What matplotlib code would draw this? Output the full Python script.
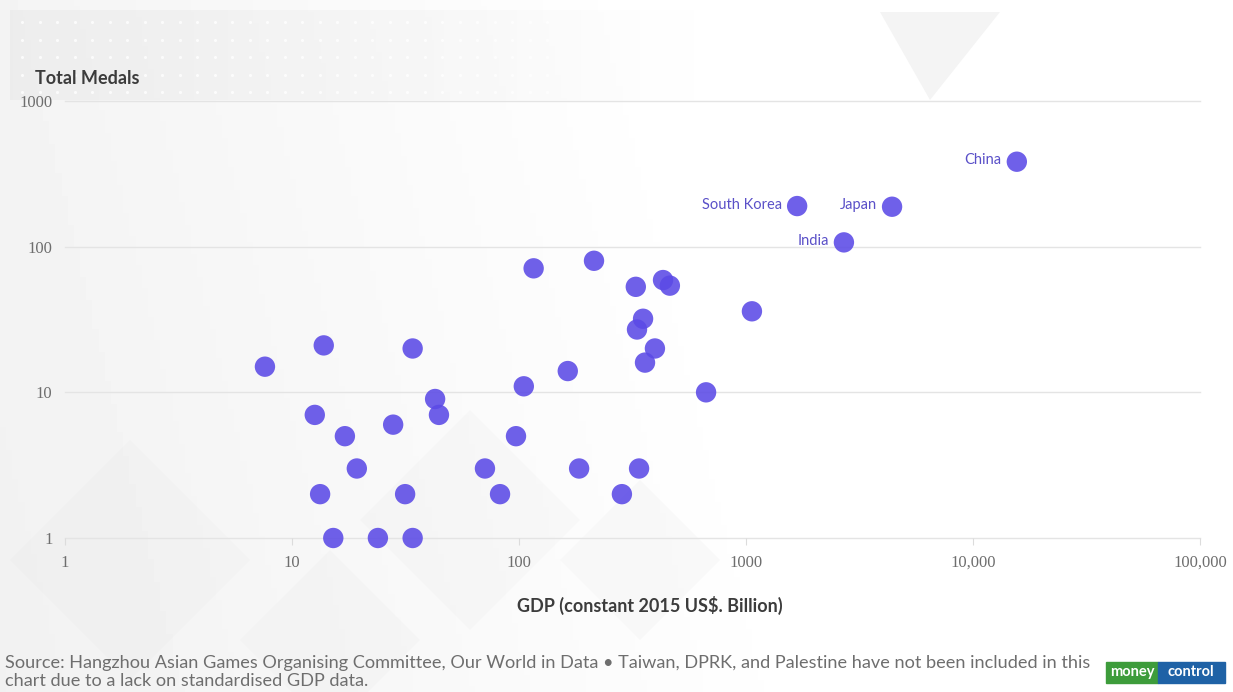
import matplotlib.pyplot as plt
import numpy as np
from matplotlib.patches import Rectangle, Polygon

plt.rcParams['font.family'] = ['Lato', 'DejaVu Sans']

# GDP (constant 2015 US$, billion) and total medals
gdp = [7.6, 13.8, 34, 12.6, 17.1, 19.3, 13.3, 27.9, 31.5, 15.2, 23.9, 34,
       42.7, 44.4, 70.8, 82.5, 105, 97, 116, 214, 327, 431, 462, 1062,
       352, 331, 397, 359, 164, 667, 184, 338, 284]
medals = [15, 21, 20, 7, 5, 3, 2, 6, 2, 1, 1, 1,
          9, 7, 3, 2, 11, 5, 71, 80, 53, 59, 54, 36,
          32, 27, 20, 16, 14, 10, 3, 3, 2]

# labelled countries
names = ['China', 'South Korea', 'Japan', 'India']
names_gdp = [15600, 1680, 4400, 2700]
names_medals = [383, 190, 188, 107]

x_ticks = [1, 10, 100, 1000, 10000, 100000]
x_labels = ['1', '10', '100', '1000', '10,000', '100,000']
y_ticks = [1, 10, 100, 1000]
y_labels = ['1', '10', '100', '1000']

dot = '#5b4ae6'
grey_txt = '#6e6e6e'
W, H = 1233, 692

fig = plt.figure(figsize=(12.33, 6.92), dpi=100)
fig.patch.set_facecolor('white')

# soft background wash, pixel coords with origin top-left
bg = fig.add_axes([0, 0, 1, 1], zorder=-5)
gx = np.linspace(0, 1, 200)
gy = np.linspace(0, 1, 120)
GX, GY = np.meshgrid(gx, gy)
shade = 0.945 + 0.055 * np.clip(GX * 1.5 + (1 - GY) * 0.2, 0, 1)
bg.imshow(shade, cmap='gray', vmin=0, vmax=1, aspect='auto',
          extent=[0, W, H, 0])
# faint diamonds
for cx, cy, r in [(130, 560, 120), (470, 520, 110), (330, 640, 90), (640, 560, 80)]:
    bg.add_patch(Polygon([(cx - r, cy), (cx, cy - r), (cx + r, cy), (cx, cy + r)],
                         closed=True, color='#e6e6e6', alpha=0.18, lw=0))
bg.add_patch(Polygon([(880, 12), (1000, 12), (930, 100)], closed=True,
                     color='#f4f4f4', lw=0))
# dotted band at the top left, fading to the right
band = np.ones((2, 256, 4)) * 0.91
band[..., 3] = np.linspace(0.55, 0.0, 256)
bg.imshow(band, extent=[10, 700, 100, 10], aspect='auto', zorder=1)
px, py = np.meshgrid(np.arange(22, 560, 17.5), np.arange(22, 100, 17.5))
bg.scatter(px.ravel(), py.ravel(), s=5, color='white', lw=0, alpha=0.8, zorder=2)
bg.set_xlim(0, W)
bg.set_ylim(H, 0)
bg.axis('off')

ax = fig.add_axes([65 / W, 154 / H, 1135 / W, 437 / H])
ax.set_facecolor('none')
ax.set_xscale('log')
ax.set_yscale('log')
ax.set_xlim(1, 100000)
ax.set_ylim(1, 1000)

for yv in y_ticks:
    ax.axhline(yv, color='#e4e4e4', lw=1, zorder=0, clip_on=False)

ax.scatter(gdp, medals, s=215, color=dot, alpha=0.88, edgecolors='none',
           zorder=3, clip_on=False)
ax.scatter(names_gdp, names_medals, s=215, color=dot, alpha=0.88,
           edgecolors='none', zorder=3, clip_on=False)
for n, xv, yv in zip(names, names_gdp, names_medals):
    ax.annotate(n, (xv, yv), xytext=(-11, 1), textcoords='offset points',
                ha='right', va='center', fontsize=10.5, color='#5a50c8')

ax.set_xticks(x_ticks)
ax.set_xticklabels(x_labels, family=['Liberation Serif', 'DejaVu Serif'])
ax.set_yticks(y_ticks)
ax.set_yticklabels(y_labels, family=['Liberation Serif', 'DejaVu Serif'])
ax.minorticks_off()
ax.tick_params(axis='x', length=5, color='#dcdcdc', labelsize=12,
               labelcolor=grey_txt, pad=7)
ax.tick_params(axis='y', length=0, labelsize=12, labelcolor=grey_txt, pad=9)
for s in ax.spines.values():
    s.set_visible(False)

fig.text(650 / W, 1 - 605 / H, 'GDP (constant 2015 US$. Billion)', fontsize=13,
         fontweight='bold', color='#3c3c3c', ha='center', va='center')
fig.text(35 / W, 1 - 79 / H, 'Total Medals', fontsize=13,
         fontweight='bold', color='#3c3c3c', va='center')

fig.text(5 / W, 1 - 672 / H,
         'Source: Hangzhou Asian Games Organising Committee, Our World in Data \u2022 '
         'Taiwan, DPRK, and Palestine have not been included in this\n'
         'chart due to a lack on standardised GDP data.',
         fontsize=13.1, color=grey_txt, va='center', linespacing=1.2)

# logo
fig.patches.append(Rectangle((1106 / W, 1 - 683 / H), 52 / W, 21 / H,
                             transform=fig.transFigure, color='#3d9c3b'))
fig.patches.append(Rectangle((1158 / W, 1 - 683 / H), 67 / W, 21 / H,
                             transform=fig.transFigure, color='#1f62a6'))
fig.text(1132 / W, 1 - 672 / H, 'money', fontsize=10.5, fontweight='bold',
         color='white', ha='center', va='center')
fig.text(1191 / W, 1 - 672 / H, 'control', fontsize=10.5, fontweight='bold',
         color='white', ha='center', va='center')

fig.savefig('out.png', dpi=100)
